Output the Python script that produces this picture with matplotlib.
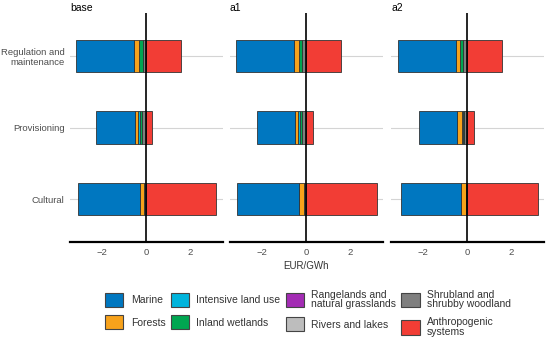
import matplotlib.pyplot as plt
import numpy as np
from matplotlib.patches import Patch

plt.rcParams['font.family'] = ['Liberation Sans', 'DejaVu Sans']

# categories bottom -> top
categories = ['Cultural', 'Provisioning', 'Regulation and\nmaintenance']
scenarios = ['base', 'a1', 'a2']

land_types = ['Marine', 'Forests', 'Intensive land use', 'Inland wetlands',
              'Rangelands and\nnatural grasslands', 'Rivers and lakes',
              'Shrubland and\nshrubby woodland', 'Anthropogenic\nsystems']
colors = ['#0077C0', '#F7A21B', '#00B4DC', '#00A651',
          '#A32CB4', '#BDBDBD', '#7F7F7F', '#F23D35']

# EUR/GWh per scenario, values for [Cultural, Provisioning, Regulation]
marine = {'base': [-2.81, -1.78, -2.62], 'a1': [-2.80, -1.76, -2.62], 'a2': [-2.74, -1.76, -2.64]}
forests = {'base': [-0.17, -0.12, -0.21], 'a1': [-0.22, -0.14, -0.22], 'a2': [-0.21, -0.20, -0.19]}
intensive = {'base': [0.0, -0.12, 0.0], 'a1': [0.0, -0.09, 0.0], 'a2': [0.0, -0.08, 0.0]}
wetlands = {'base': [0.0, -0.05, -0.20], 'a1': [0.0, -0.05, -0.13], 'a2': [0.0, -0.04, -0.11]}
rangelands = {'base': [0.0, 0.0, 0.0], 'a1': [0.0, 0.0, 0.0], 'a2': [0.0, 0.0, 0.0]}
rivers = {'base': [0.0, 0.0, 0.0], 'a1': [0.0, 0.0, 0.0], 'a2': [0.0, 0.0, 0.0]}
shrubland = {'base': [-0.10, -0.20, -0.13], 'a1': [-0.11, -0.20, -0.20], 'a2': [-0.06, -0.12, -0.20]}
anthropogenic = {'base': [3.20, 0.27, 1.57], 'a1': [3.24, 0.31, 1.60], 'a2': [3.24, 0.33, 1.60]}

series = [marine, forests, intensive, wetlands, rangelands, rivers, shrubland, anthropogenic]

fig = plt.figure(figsize=(5.5, 3.41), dpi=100)
lefts = [70 / 550, 230 / 550, 391 / 550]
y = np.arange(1, len(categories) + 1)

for i, (sc, lx) in enumerate(zip(scenarios, lefts)):
    ax = fig.add_axes([lx, 0.29, 153 / 550, 0.672])
    # stack outward from zero: last level nearest zero
    neg = np.zeros(len(categories))
    pos = np.zeros(len(categories))
    for s, c in reversed(list(zip(series, colors))):
        vals = np.array(s[sc])
        for k, v in enumerate(vals):
            if v == 0:
                continue
            if v < 0:
                ax.barh(y[k], v, left=neg[k], height=0.45, color=c,
                        edgecolor='#333333', linewidth=0.6, zorder=2)
                neg[k] += v
            else:
                ax.barh(y[k], v, left=pos[k], height=0.45, color=c,
                        edgecolor='#333333', linewidth=0.6, zorder=2)
                pos[k] += v
    for yy in y:
        ax.axhline(yy, color='#d4d4d4', lw=0.8, zorder=0)
    ax.axvline(0, color='black', lw=1.2, zorder=3)
    ax.set_xlim(-3.45, 3.5)
    ax.set_ylim(0.4, 3.6)
    ax.set_xticks([-2, 0, 2])
    ax.set_xticklabels(['\u22122', '0', '2'])
    ax.set_yticks(y)
    if i == 0:
        ax.set_yticklabels(categories, ha='right', multialignment='right')
    else:
        ax.set_yticklabels([])
    ax.tick_params(length=0, labelsize=6.8, labelcolor='#4d4d4d', pad=4)
    for sp in ['top', 'right', 'left']:
        ax.spines[sp].set_visible(False)
    ax.spines['bottom'].set_linewidth(1.6)
    ax.spines['bottom'].set_color('black')
    ax.set_title(sc, loc='left', fontsize=7.5, pad=0.5, x=0.0)
    if i == 1:
        ax.set_xlabel('EUR/GWh', fontsize=7, color='#333333', labelpad=3)

handles = [Patch(facecolor=c, edgecolor='#444444', linewidth=0.8) for c in colors]
leg = fig.legend(handles, land_types, loc='center', bbox_to_anchor=(0.56, 0.082),
                 ncol=4, frameon=False, fontsize=7.5, handlelength=1.75,
                 handleheight=1.75, handletextpad=0.7, columnspacing=0.5,
                 labelspacing=0.75)
for t in leg.get_texts():
    t.set_color('#333333')
    t.set_linespacing(0.95)

fig.savefig('out.png', dpi=100)
